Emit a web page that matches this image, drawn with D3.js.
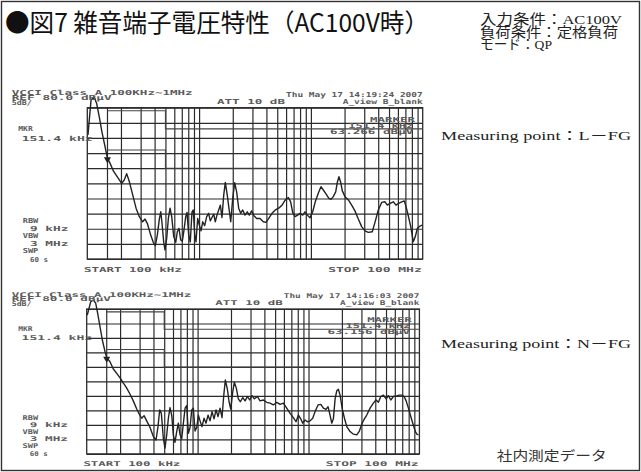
<!DOCTYPE html>
<html>
<head>
<meta charset="utf-8">
<script src="https://cdn.jsdelivr.net/npm/d3@7"></script>
<style>
  body { margin: 0; background: #fff; }
  svg text { white-space: pre; }
</style>
</head>
<body>
<div id="chart"></div>
<script>
const WIDTH = 641;
const HEIGHT = 472;

// conducted noise, [frequency MHz, level dBuV]
var traceLFG = [[0.1014,71.0],[0.108,82.5],[0.115,83.6],[0.121,81.5],[0.128,77.0],[0.135,72.1],[0.143,67.7],[0.1514,63.3],
  [0.160,61.6],[0.171,59.1],[0.185,57.2],[0.203,55.0],[0.214,56.1],[0.225,58.2],[0.238,55.5],[0.255,51.1],[0.273,46.8],
  [0.292,44.0],[0.313,42.3],[0.328,43.2],[0.344,41.8],[0.369,37.9],[0.389,35.5],[0.406,34.4],[0.423,37.9],[0.441,43.2],
  [0.454,45.6],[0.466,41.8],[0.482,35.7],[0.495,33.0],[0.513,36.8],[0.531,43.4],[0.550,46.8],[0.569,44.0],[0.593,37.4],
  [0.618,35.5],[0.638,39.0],[0.661,40.1],[0.684,36.3],[0.708,35.9],[0.733,39.6],[0.759,44.0],[0.780,45.4],[0.807,37.9],
  [0.834,35.7],[0.864,45.6],[0.887,46.2],[0.914,37.9],[0.938,35.7],[0.971,43.4],[1.004,41.2],[1.040,39.3],[1.077,42.3],
  [1.122,41.0],[1.169,44.0],[1.218,45.1],[1.259,42.6],[1.303,43.7],[1.351,44.8],[1.396,42.3],[1.445,44.5],[1.497,46.2],
  [1.549,47.8],[1.603,43.7],[1.660,51.1],[1.716,55.3],[1.786,51.1],[1.849,46.8],[1.918,42.3],[2.000,50.1],[2.080,55.2],
  [2.168,52.2],[2.259,46.8],[2.355,45.1],[2.455,46.2],[2.575,44.5],[2.698,45.6],[2.812,44.5],[2.951,45.9],[3.097,44.3],
  [3.273,43.4],[3.506,43.4],[3.753,42.3],[3.963,42.1],[4.198,43.4],[4.487,45.1],[4.808,46.2],[5.152,46.8],[5.520,47.8],
  [5.902,49.5],[6.281,50.3],[6.592,48.9],[6.871,45.4],[7.211,44.0],[7.621,44.5],[7.998,45.1],[8.453,44.5],[8.851,45.6],
  [9.290,44.5],[9.817,43.6],[10.38,45.6],[10.94,48.9],[11.64,51.7],[12.30,53.9],[12.91,52.8],[13.65,51.5],[14.43,50.1],
  [15.14,49.7],[15.85,50.6],[16.67,52.2],[17.22,55.3],[17.82,57.2],[18.49,55.3],[19.10,52.5],[20.18,50.6],[21.63,49.5],
  [23.17,47.8],[24.77,45.9],[26.55,43.2],[28.45,40.7],[30.47,39.3],[32.60,38.8],[35.40,39.0],[37.41,42.1],[40.09,46.2],
  [42.95,48.7],[46.01,48.9],[48.22,47.8],[51.05,48.4],[54.60,48.9],[57.68,47.8],[60.95,48.4],[64.86,48.9],[68.39,49.2],
  [70.95,47.3],[74.30,44.3],[78.16,40.7],[82.41,35.7],[85.90,37.4],[89.54,40.1],[94.62,40.9],[98.6,41.2]];

var traceNFG = [[0.1012,77.9],[0.1087,82.5],[0.1148,83.1],[0.1205,82.0],[0.1256,78.5],[0.1318,73.9],[0.1383,69.3],[0.1463,65.3],
  [0.1514,63.2],[0.1622,61.8],[0.1738,59.3],[0.1888,57.5],[0.2028,55.9],[0.2113,54.7],[0.2183,54.0],[0.2296,52.7],[0.2460,50.6],
  [0.2630,48.3],[0.2825,45.5],[0.2979,43.7],[0.3133,42.3],[0.3289,43.2],[0.3475,41.4],[0.3724,39.1],[0.399,36.0],[0.4217,34.8],
  [0.4395,39.4],[0.455,45.2],[0.471,44.0],[0.491,35.4],[0.508,32.0],[0.527,36.6],[0.545,42.3],[0.564,46.0],[0.585,43.2],
  [0.604,36.6],[0.625,34.0],[0.648,37.7],[0.670,40.6],[0.695,36.6],[0.719,35.2],[0.744,40.6],[0.771,45.8],[0.798,46.7],
  [0.825,37.1],[0.855,39.1],[0.885,45.2],[0.915,45.8],[0.948,37.9],[0.982,39.1],[1.016,43.4],[1.052,41.4],[1.096,39.4],
  [1.143,42.3],[1.191,40.6],[1.242,43.4],[1.294,41.4],[1.349,44.6],[1.407,42.1],[1.466,45.2],[1.528,42.9],[1.593,45.8],
  [1.660,42.5],[1.722,50.3],[1.778,55.5],[1.854,52.4],[1.921,48.0],[1.991,45.5],[2.075,51.5],[2.143,54.7],[2.234,52.7],
  [2.328,49.0],[2.427,48.0],[2.553,49.4],[2.678,48.3],[2.812,49.8],[2.953,48.6],[3.097,50.1],[3.248,49.0],[3.459,49.8],
  [3.656,48.3],[3.915,48.6],[4.204,47.8],[4.502,47.5],[4.82,46.9],[5.17,47.8],[5.54,47.1],[5.93,47.5],[6.36,45.8],
  [6.82,44.0],[7.30,42.5],[7.72,41.1],[8.11,43.4],[8.51,42.1],[8.87,40.6],[9.31,41.7],[9.77,41.1],[10.33,41.4],
  [10.91,42.3],[11.46,44.6],[12.19,46.9],[12.91,47.1],[13.62,45.8],[14.39,45.4],[15.0,46.3],[15.63,43.4],[16.2,40.6],
  [16.76,42.1],[17.37,49.0],[17.99,51.8],[18.58,52.3],[19.27,50.3],[20.09,45.8],[21.09,42.3],[22.13,39.4],[23.71,37.7],
  [25.41,36.8],[27.23,36.6],[28.77,37.9],[30.41,40.6],[31.91,42.1],[33.5,43.4],[35.9,45.8],[38.46,47.5],[40.64,48.6],
  [42.66,47.8],[44.87,49.8],[47.32,50.3],[50.1,49.0],[52.5,50.1],[55.2,48.6],[58.2,49.8],[62.5,50.0],[65.9,50.3],
  [69.8,50.3],[72.8,49.8],[75.9,48.3],[79.6,45.8],[83.6,42.9],[88.3,39.8],[92.0,37.7],[94.8,36.8],[98.0,36.6]];

// VCCI class A limits (QP and AV), [MHz, dBuV]
var qpLimit = [[0.15,79],[0.5,79],[0.5,73],[100,73]];
var avLimit = [[0.15,66],[0.5,66],[0.5,60],[100,60]];

var gridFreqs = [0.15,0.2,0.3,0.4,0.5,0.6,0.7,0.8,0.9,1,2,3,4,5,6,7,8,9,10,20,30,40,50,60,70,80,90];
var gridLevels = [30,35,40,45,50,55,60,65,70,75,80];
var markerFreq = 0.1514;
var markerLevels = [63.266, 63.156];
var markerTexts = ["63.266 dB\u00b5V", "63.156 dB\u00b5V"];
var sweepTimes = ["Thu May 17 14:19:24 2007", "Thu May 17 14:16:03 2007"];
var pointLabels = ["Measuring point\uff1aL\uff0dFG", "Measuring point\uff1aN\uff0dFG"];
var infoLines = ["入力条件：AC100V", "負荷条件：定格負荷", "モード：QP"];
var infoWidths = [142, 138, 72];

const PLOT = { LEFT: 87.3, RIGHT: 422.7, TOP: 107.7, BOTTOM: 259 };

var svg = d3.select("div#chart").append("svg")
    .attr("width", WIDTH)
    .attr("height", HEIGHT)
    .style("display", "block");

svg.append("rect")
    .attr("x", 1.5).attr("y", 1.5)
    .attr("width", WIDTH - 3).attr("height", HEIGHT - 3)
    .attr("fill", "#fff")
    .attr("stroke", "#333").attr("stroke-width", 1.4);

// header
svg.append("text")
    .attr("x", 5).attr("y", 32)
    .attr("textLength", 424).attr("lengthAdjust", "spacingAndGlyphs")
    .style("font-family", "'Noto Sans CJK JP', sans-serif")
    .style("font-size", "25px")
    .attr("fill", "#111")
    .text("●図7 雑音端子電圧特性（AC100V時）");

svg.selectAll("text.info").data(infoLines)
    .join("text")
    .attr("class", "info")
    .attr("x", 480)
    .attr("y", (d, i) => 24 + i * 12.5)
    .attr("textLength", (d, i) => infoWidths[i]).attr("lengthAdjust", "spacingAndGlyphs")
    .style("font-family", "'Liberation Serif', 'Noto Sans CJK JP', serif")
    .style("font-size", "13.5px")
    .attr("fill", "#222")
    .text(d => d);

var x = d3.scaleLog([0.1, 100], [PLOT.LEFT, PLOT.RIGHT]);
var y = d3.scaleLinear([30, 80], [PLOT.BOTTOM, PLOT.TOP]);

const lineFunc = d3.line()
    .x(d => x(d[0]))
    .y(d => y(d[1]));

function label(g, s, x0, x1, yb) {
    g.append("text")
        .attr("x", x0).attr("y", yb)
        .attr("textLength", x1 - x0).attr("lengthAdjust", "spacingAndGlyphs")
        .style("font-family", "'DejaVu Sans Mono', monospace")
        .style("font-weight", "bold")
        .style("font-size", "6.8px")
        .attr("fill", "#5a5a5a")
        .text(s);
}

var panels = [
    { data: traceLFG, time: sweepTimes[0], mkr: markerTexts[0], level: markerLevels[0], tf: null },
    { data: traceNFG, time: sweepTimes[1], mkr: markerTexts[1], level: markerLevels[1], tf: "translate(0.1,205.8) scale(0.992,0.958)" }
];

panels.forEach(function(p) {
    var g = svg.append("g").attr("transform", p.tf);

    // grid through the axes
    g.append("g")
        .attr("transform", `translate(0,${PLOT.BOTTOM})`)
        .call(d3.axisBottom(x).tickValues(gridFreqs).tickSize(-(PLOT.BOTTOM - PLOT.TOP)).tickFormat(""))
        .call(a => a.select(".domain").remove())
        .selectAll("line").attr("stroke", "#2b2b2b").attr("stroke-width", 1.2);
    g.append("g")
        .attr("transform", `translate(${PLOT.LEFT},0)`)
        .call(d3.axisLeft(y).tickValues(gridLevels).tickSize(-(PLOT.RIGHT - PLOT.LEFT)).tickFormat(""))
        .call(a => a.select(".domain").remove())
        .selectAll("line").attr("stroke", "#2b2b2b").attr("stroke-width", 1.2);
    g.append("rect")
        .attr("x", PLOT.LEFT).attr("y", PLOT.TOP)
        .attr("width", PLOT.RIGHT - PLOT.LEFT).attr("height", PLOT.BOTTOM - PLOT.TOP)
        .attr("fill", "none").attr("stroke", "#2b2b2b").attr("stroke-width", 1.3);

    g.selectAll("path.limit").data([qpLimit, avLimit])
        .join("path")
        .attr("class", "limit")
        .attr("d", lineFunc)
        .attr("fill", "none").attr("stroke", "#444").attr("stroke-width", 1.1);

    g.append("path")
        .attr("d", lineFunc(p.data))
        .attr("fill", "none")
        .attr("stroke", "#222").attr("stroke-width", 1.4)
        .attr("stroke-linejoin", "round");

    g.append("path")
        .attr("d", d3.symbol(d3.symbolTriangle, 22))
        .attr("transform", `translate(${x(markerFreq)},${y(p.level) + 1}) rotate(180)`)
        .attr("fill", "#222");

    label(g, "VCCI Class A 100KHz~1MHz", 11.7, 192.7, 94.8);
    label(g, "REF 80.0 dB\u00b5V", 11.7, 111.7, 99.8);
    label(g, "5dB/", 11.7, 31.7, 104.8);
    label(g, p.time, 286, 422.7, 96.5);
    label(g, "ATT 10 dB", 217, 285, 104);
    label(g, "A_view B_blank", 342.7, 422.7, 104);
    label(g, "MKR", 18.3, 32.7, 131);
    label(g, "151.4 kHz", 21.7, 92.7, 140.5);
    label(g, "MARKER", 370, 415, 121.5);
    label(g, "151.4 kHz", 348.3, 413.3, 127.5);
    label(g, p.mkr, 330, 413.3, 134);
    label(g, "RBW", 22.7, 38.3, 223.3);
    label(g, "9 kHz", 30, 68.3, 231.2);
    label(g, "VBW", 22.7, 38.3, 238.3);
    label(g, "3 MHz", 30, 68.3, 245.7);
    label(g, "SWP", 22.7, 38.3, 253);
    label(g, "60 s", 30, 48, 261.7);
    label(g, "START 100 kHz", 84, 181.7, 272);
    label(g, "STOP 100 MHz", 328.3, 421.7, 272);
});

svg.selectAll("text.point").data(pointLabels)
    .join("text")
    .attr("class", "point")
    .attr("x", 441)
    .attr("y", (d, i) => [139.5, 348][i])
    .attr("textLength", 190).attr("lengthAdjust", "spacingAndGlyphs")
    .style("font-family", "'Liberation Serif', 'Noto Sans CJK JP', serif")
    .style("font-size", "13px")
    .attr("fill", "#222")
    .text(d => d);

svg.append("text")
    .attr("x", 496.7).attr("y", 460)
    .attr("textLength", 110).attr("lengthAdjust", "spacingAndGlyphs")
    .style("font-family", "'Noto Sans CJK JP', sans-serif")
    .style("font-size", "13px")
    .attr("fill", "#333")
    .text("社内測定データ");
</script>
</body>
</html>
